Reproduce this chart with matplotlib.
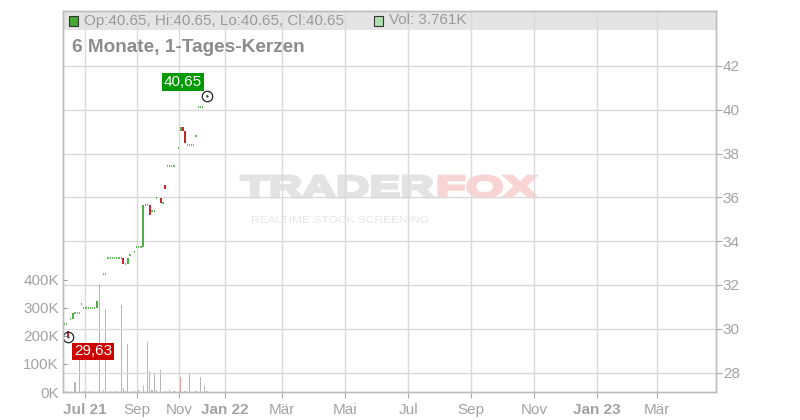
import matplotlib
matplotlib.use('Agg')
import matplotlib.pyplot as plt
from matplotlib.textpath import TextPath
from matplotlib.font_manager import FontProperties
from matplotlib.patches import PathPatch, Rectangle
from matplotlib.transforms import Affine2D, IdentityTransform

plt.rcParams['font.family'] = ['Liberation Sans', 'DejaVu Sans']

# --- Kerzen (Handelstag-Index, Eröffnung, Schluss) ---
tag = [0, 1, 2, 3, 4, 5, 6, 7, 8, 9, 10, 11, 12, 13, 14, 15, 16, 18, 19,
       20, 21, 22, 23, 24, 25, 26, 27, 28, 29, 30, 32, 33, 34, 35, 36, 37, 38,
       39, 40, 41, 42, 44, 45, 46, 47, 48, 49, 50, 52, 53, 54, 55, 56, 57, 58,
       59, 60, 61, 62, 63, 65]
eroeffnung = [30.22, 30.22, 29.90, 30.45, 30.45, 30.72, 30.72, 30.72, 31.13,
              30.95, 30.95, 30.95, 30.95, 30.95, 30.95, 30.95, 31.95, 32.50, 32.50,
              33.23, 33.23, 33.23, 33.23, 33.23, 33.23, 33.23, 33.23, 32.96, 32.96,
              33.37, 33.51, 33.74, 33.74, 33.74, 33.74, 35.65, 35.65, 35.65, 35.38,
              35.38, 35.97, 35.97, 35.74, 36.57, 37.43, 37.43, 37.43, 37.43, 38.26,
              39.03, 39.21, 39.03, 38.39, 38.39, 38.39, 38.39, 38.80, 40.13, 40.13,
              40.13, 40.65]
schluss = [30.22, 30.22, 29.63, 30.45, 30.72, 30.72, 30.72, 30.72, 31.13,
           30.95, 30.95, 30.95, 30.95, 30.95, 30.95, 31.27, 31.95, 32.50, 32.50,
           33.23, 33.23, 33.23, 33.23, 33.23, 33.23, 33.23, 32.96, 32.96, 33.23,
           33.37, 33.51, 33.74, 33.74, 33.74, 35.65, 35.65, 35.65, 35.20, 35.38,
           35.38, 35.97, 35.74, 35.74, 36.38, 37.43, 37.43, 37.43, 37.43, 38.26,
           39.21, 39.03, 38.48, 38.39, 38.39, 38.39, 38.39, 38.80, 40.13, 40.13,
           40.13, 40.65]

# --- Volumen (in Tausend) ---
vol_tag = [1, 5, 7, 9, 12, 16, 18, 19, 21, 24, 26, 27, 28, 29, 32, 34, 36, 38,
           39, 40, 41, 42, 44, 46, 48, 50, 53, 55, 57, 60, 62, 64, 65]
vol_k = [5, 36, 140, 5, 4, 376, 8, 296, 4, 3, 311, 15, 5, 171, 5, 6, 25, 178,
         75, 8, 65, 6, 79, 5, 7, 4, 55, 4, 67, 4, 55, 21, 3.761]
vol_art = ['n', 'n', 'n', 'n', 'r', 'n', 'g', 'n', 'n', 'n', 'n', 'r', 'n', 'n',
           'n', 'n', 'g', 'n', 'r', 'n', 'n', 'n', 'n', 'r', 'g', 'n', 'r', 'n',
           'n', 'n', 'n', 'n', 'g']

# --- Achsen ---
monat_pos = [9.5, 33.2, 52.3, 73.2, 99.1, 127.7, 156.4, 185.0, 213.6, 242.3, 269.5]
monat_lbl = ['Jul 21', 'Sep', 'Nov', 'Jan 22', 'Mär', 'Mai', 'Jul', 'Sep', 'Nov',
             'Jan 23', 'Mär']
preis_ticks = [28, 30, 32, 34, 36, 38, 40, 42]
vol_ticks = [0, 100, 200, 300, 400]

GRUEN = '#3fa535'
ROT = '#b81414'
GRAU_TXT = '#a3a3a3'
W, H = 800, 420

fig = plt.figure(figsize=(8, 4.2), dpi=100)
ax = fig.add_axes([63 / W, 28 / H, 653 / W, 381 / H])
ax.set_facecolor('none')
axp = ax.twinx()

# Volumen
farben = {'n': '#b5b5b5', 'r': '#e8a2aa', 'g': '#a3dca3'}
ax.bar(vol_tag, vol_k, width=0.5, color=[farben[a] for a in vol_art], linewidth=0, zorder=2)
ax.set_ylim(0, 1360)
ax.set_xlim(-0.45, 296.4)
ax.set_yticks(vol_ticks)
ax.set_yticklabels([f'{v}K' for v in vol_ticks])
ax.tick_params(axis='y', direction='in', length=3, color='#999999', labelcolor=GRAU_TXT,
               labelsize=11, pad=3)
ax.set_xticks(monat_pos)
ax.set_xticklabels(monat_lbl)
ax.tick_params(axis='x', direction='out', length=4, color='#aaaaaa', labelcolor=GRAU_TXT,
               labelsize=11, pad=4)
for lbl in ax.get_xticklabels():
    if lbl.get_text() in ('Jul 21', 'Jan 22', 'Jan 23'):
        lbl.set_fontweight('bold')
ax.set_axisbelow(True)
ax.grid(axis='x', color='#dadada', linewidth=1)

# Kopfband
ax.add_patch(Rectangle((0, 1 - 19 / 381), 1, 19 / 381, transform=ax.transAxes,
                       facecolor='#e4e4e4', edgecolor='none', zorder=0.2))

# Preis
axp.set_ylim(27.114, 44.51)
axp.set_yticks(preis_ticks)
axp.tick_params(axis='y', direction='out', length=4, color='#aaaaaa', labelcolor=GRAU_TXT,
                labelsize=11, pad=1)
axp.grid(axis='y', color='#dadada', linewidth=1, zorder=0)
axp.set_axisbelow(True)

for t, o, c in zip(tag, eroeffnung, schluss):
    if o == c:
        axp.hlines(c, t - 0.27, t + 0.27, color=GRUEN, linewidth=1.1)
    else:
        axp.vlines(t, o, c, color=GRUEN if c > o else ROT, linewidth=1.3)

i_max = schluss.index(max(schluss))
i_min = schluss.index(min(schluss))
for i, farbe, off in [(i_max, '#009900', (-24, 13.5)), (i_min, '#cc0000', (24.5, -14.5))]:
    axp.plot(tag[i], schluss[i], 'o', mfc='none', mec='#222222', ms=7.5, mew=0.9)
    axp.plot(tag[i], schluss[i], '.', color='#222222', ms=1)
    axp.annotate(f'{schluss[i]:.2f}'.replace('.', ','), xy=(tag[i], schluss[i]),
                 xytext=off, textcoords='offset pixels', ha='center', va='center',
                 color='white', fontsize=11,
                 bbox=dict(boxstyle='square,pad=0.12', fc=farbe, ec='none'))

for a in (ax, axp):
    for s in a.spines.values():
        s.set_color('#bdbdbd')
        s.set_linewidth(1)

# Kopfzeile
fig.patches.append(Rectangle((69 / W, 1 - 26 / H), 9 / W, 10 / H, transform=fig.transFigure,
                             facecolor='#44a832', edgecolor='#333333', linewidth=0.8))
fig.text(84 / W, 1 - 20.5 / H, 'Op:40.65, Hi:40.65, Lo:40.65, Cl:40.65', fontsize=11,
         color='#9a9a9a', va='center')
fig.patches.append(Rectangle((374 / W, 1 - 26 / H), 9 / W, 10 / H, transform=fig.transFigure,
                             facecolor='#aee0ae', edgecolor='#333333', linewidth=0.8))
fig.text(389 / W, 1 - 20.5 / H, 'Vol: 3.761K', fontsize=11, color='#9a9a9a', va='center')
fig.text(72 / W, 1 - 48 / H, '6 Monate, 1-Tages-Kerzen', fontsize=13.7, fontweight='bold',
         color='#8c8c8c', va='center')


# Wasserzeichen
def logo(text, x0, x1, ytop, ybot, farbe, gewicht='bold', strich=0.0):
    tp = TextPath((0, 0), text, size=100,
                  prop=FontProperties(family='Liberation Sans', weight=gewicht))
    bb = tp.get_extents()
    tr = (Affine2D().translate(-bb.x0, -bb.y0)
          .scale((x1 - x0) / bb.width, (ybot - ytop) / bb.height)
          .translate(x0, H - ybot))
    fig.add_artist(PathPatch(tr.transform_path(tp), facecolor=farbe, edgecolor=farbe,
                             linewidth=strich, transform=IdentityTransform(), zorder=-1))


logo('TRADER', 241, 433, 176, 197, '#e3e3e3', strich=2.2)
logo('FOX', 439, 536, 176, 197, '#f8d4d4', strich=2.2)
logo('REALTIME STOCK SCREENING', 252, 428, 216, 223, '#e6e6e6', 'normal')

fig.savefig('out.png', dpi=100)
